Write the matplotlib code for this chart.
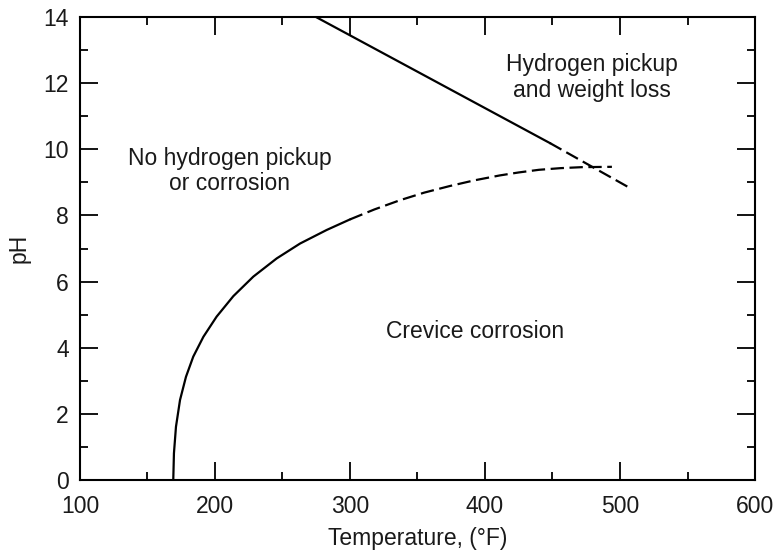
import matplotlib
matplotlib.use("Agg")
import matplotlib.pyplot as plt
from matplotlib.ticker import MultipleLocator

plt.rcParams['font.family'] = ['Liberation Sans', 'DejaVu Sans']

# --- Data ---
# upper boundary (hydrogen pickup), straight line
upper_solid_T = [274.8, 448.0]
upper_solid_pH = [14.0, 10.19]
upper_dash_T = [448.0, 506.0]
upper_dash_pH = [10.19, 8.86]

# lower boundary (crevice corrosion), curved
lower_solid_T = [169.1, 169.6, 171.1, 174.1, 178.5, 183.9, 191.4, 201.2, 213.6,
                 228.4, 245.7, 263.0, 282.7, 300.0]
lower_solid_pH = [0.0, 0.81, 1.61, 2.42, 3.12, 3.73, 4.33, 4.94, 5.56,
                  6.15, 6.70, 7.15, 7.56, 7.88]
lower_dash_T = [300.0, 318.0, 337.0, 355.0, 374.0, 392.0, 411.0, 425.0, 440.0, 456.0, 472.0, 494.0]
lower_dash_pH = [7.88, 8.18, 8.46, 8.69, 8.89, 9.06, 9.21, 9.30, 9.38, 9.43, 9.46, 9.47]

labels = ["No hydrogen pickup\nor corrosion", "Hydrogen pickup\nand weight loss", "Crevice corrosion"]
label_T = [211, 479, 393]
label_pH = [9.34, 12.17, 4.5]

# --- Plot ---
fig = plt.figure(figsize=(7.75, 5.52), dpi=100)
ax = fig.add_axes([0.1032, 0.1304, 0.8710, 0.8388])

lw = 1.6
ax.plot(upper_solid_T, upper_solid_pH, color='black', lw=lw)
ax.plot(upper_dash_T, upper_dash_pH, color='black', lw=lw, dashes=(6, 2.5))
ax.plot(lower_solid_T, lower_solid_pH, color='black', lw=lw)
ax.plot(lower_dash_T, lower_dash_pH, color='black', lw=lw, dashes=(6, 2.5))

for txt, t, p in zip(labels, label_T, label_pH):
    ax.text(t, p, txt, ha='center', va='center', fontsize=16.5, color='#1a1a1a', linespacing=1.15)

ax.set_xlim(100, 600)
ax.set_ylim(0, 14)
ax.xaxis.set_major_locator(MultipleLocator(100))
ax.xaxis.set_minor_locator(MultipleLocator(50))
ax.yaxis.set_major_locator(MultipleLocator(2))
ax.yaxis.set_minor_locator(MultipleLocator(1))
ax.tick_params(which='both', direction='in', top=True, right=True, width=1.3, labelsize=16.5,
               colors='black', labelcolor='#1a1a1a')
ax.tick_params(which='major', length=13)
ax.tick_params(which='minor', length=6)
ax.tick_params(axis='x', which='major', pad=11)
ax.tick_params(axis='y', which='major', pad=8)
for s in ax.spines.values():
    s.set_linewidth(1.5)

ax.set_xlabel("Temperature, (°F)", fontsize=16.5, labelpad=6, color='#1a1a1a')
ax.set_ylabel("pH", fontsize=16.5, labelpad=9, color='#1a1a1a')

fig.savefig("out.png", dpi=100)
